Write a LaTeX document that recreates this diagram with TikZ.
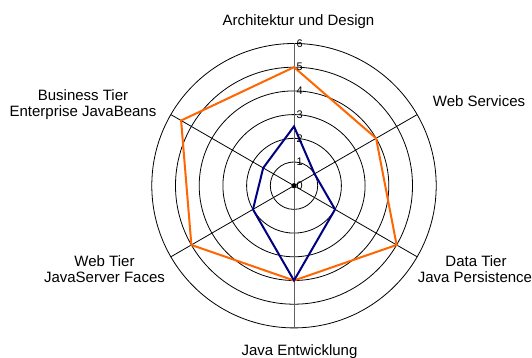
\documentclass[tikz,border=0pt]{standalone}
\usepackage{fontspec}
\setmainfont{Liberation Sans}
\definecolor{orangeS}{HTML}{FF6600}
\definecolor{navyS}{HTML}{000080}
\definecolor{axisgray}{HTML}{606060}
\def\radunit{23.7}
\begin{document}
\begin{tikzpicture}[x=1pt,y=1pt,
  ring/.style={draw=black,line width=0.8pt},
  spoke/.style={draw=black,line width=0.8pt},
  vaxis/.style={draw=axisgray,line width=1pt},
  seriesA/.style={draw=orangeS,line width=2pt,line join=miter},
  seriesB/.style={draw=navyS,line width=2pt,line join=miter},
  axlabel/.style={font=\fontsize{15}{17}\selectfont,inner sep=0pt,anchor=base},
  ticklabel/.style={font=\fontsize{11}{13}\selectfont,inner sep=0pt,anchor=west}]
\useasboundingbox (-294,-172.3) rectangle (238,185.7);
\coordinate (O) at (0,0);
% rings
\foreach \k in {1,...,6}
  \draw[ring] (O) circle[radius={\k*\radunit}];
% spoke ends
\foreach \a/\n in {90/A,30/B,-30/C,-90/D,210/E,150/F}
  \coordinate (ax\n) at ({\a}:{6*\radunit});
\foreach \n in {B,C,E,F}
  \draw[spoke] (O) -- (ax\n);
\draw[vaxis] (O) -- (axA);
\draw[vaxis] (O) -- (axD);
% series 1 (orange)
\coordinate (pA) at (90:{5*\radunit});
\coordinate (pB) at (30:{4*\radunit});
\coordinate (pC) at (-30:{5*\radunit});
\coordinate (pD) at (-90:{4*\radunit});
\coordinate (pE) at (210:{5*\radunit});
\coordinate (pF) at (150:{5.5*\radunit});
\draw[seriesA] (pA) -- (pB) -- (pC) -- (pD) -- (pE) -- (pF) -- cycle;
% series 2 (blue)
\coordinate (qA) at (90:{2.5*\radunit});
\coordinate (qB) at (30:{1*\radunit});
\coordinate (qC) at (-30:{2*\radunit});
\coordinate (qD) at (-90:{4*\radunit});
\coordinate (qE) at (210:{2*\radunit});
\coordinate (qF) at (150:{1.5*\radunit});
\draw[seriesB] (qA) -- (qB) -- (qC) -- (qD) -- (qE) -- (qF) -- cycle;
% centre dot
\fill[black] (O) circle[radius=2.6];
% tick labels
\foreach \k in {0,...,6}
  \node[ticklabel] (t\k) at (2.5,{\k*\radunit}) {\k};
% category labels
\node[axlabel] (lA) at (4.5,160.2) {Architektur und Design};
\node[axlabel] (lB) at (185,79.2) {Web Services};
\node[axlabel] (lC1) at (182,-81.3) {Data Tier};
\node[axlabel] (lC2) at (181,-97.3) {Java Persistence};
\node[axlabel] (lD) at (5.5,-170) {Java Entwicklung};
\node[axlabel] (lE1) at (-189.5,-81.3) {Web Tier};
\node[axlabel] (lE2) at (-189.5,-97.3) {JavaServer Faces};
\node[axlabel] (lF1) at (-211,85) {Business Tier};
\node[axlabel] (lF2) at (-211,69) {Enterprise JavaBeans};
\end{tikzpicture}
\end{document}
